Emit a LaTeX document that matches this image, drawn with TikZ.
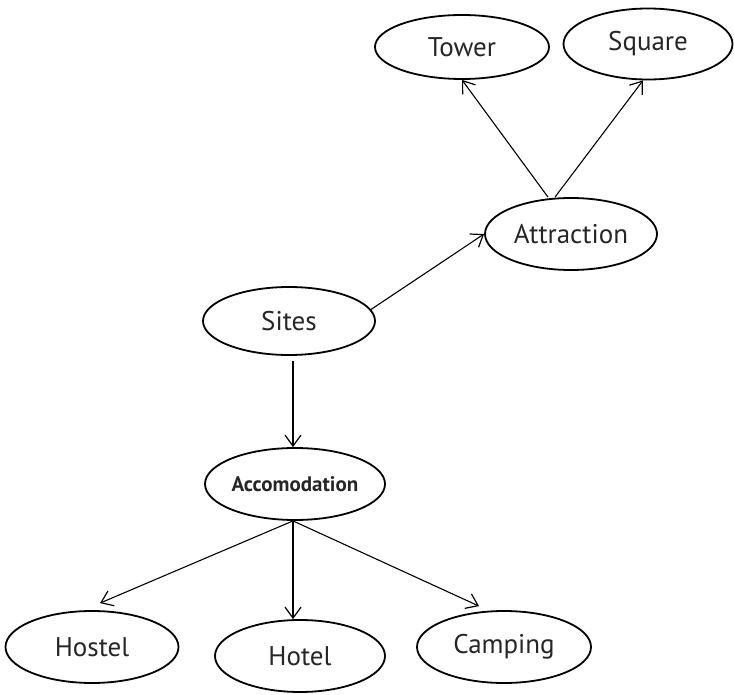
\documentclass[tikz,border=0pt]{standalone}
\usepackage{fontspec}
\setmainfont{PT Sans}
\usetikzlibrary{arrows.meta,shapes.geometric}
\begin{document}
\begin{tikzpicture}[x=1pt,y=-1pt,
  ell/.style={draw, line width=1.8pt, ellipse, inner sep=0pt, text=black!85,
    font=\fontsize{27}{30}\selectfont},
  arr/.style={line width=1.1pt, -{Straight Barb[length=11pt,width=16pt,line width=1.2pt]}}]
\useasboundingbox (0,0) rectangle (734,695);
\node[ell, minimum width=174pt, minimum height=64pt] (tower) at (462,47) {Tower};
\node[ell, minimum width=169pt, minimum height=71pt] (square) at (648,44) {Square};
\node[ell, minimum width=172pt, minimum height=72pt] (attr) at (571,234) {Attraction};
\node[ell, minimum width=172pt, minimum height=68pt] (sites) at (289,321) {Sites};
\node[ell, minimum width=180pt, minimum height=72pt, font=\bfseries\fontsize{21}{23}\selectfont] (acc) at (295,484) {Accomodation};
\node[ell, minimum width=173pt, minimum height=72pt] (hostel) at (92,647) {Hostel};
\node[ell, minimum width=170pt, minimum height=72pt] (hotel) at (300,656) {Hotel};
\node[ell, minimum width=174pt, minimum height=72pt] (camping) at (504,647) {Camping};
\draw[arr] ([xshift=-23pt]attr.north) -- (tower.south);
\draw[arr] ([xshift=-16pt]attr.north) -- ([xshift=-5pt]square.south);
\draw[arr] (sites.8) -- (attr.west);
\draw[arr, shorten <=5pt] ([xshift=-2pt]acc.north |- sites.south) -- ([xshift=-2pt]acc.north);
\draw[arr] ([xshift=-2pt]acc.south) -- ([xshift=-2pt]acc.south |- hotel.north);
\draw[arr] ([xshift=-2pt]acc.south) -- ([shift={(8,-7)}]hostel.north);
\draw[arr] ([xshift=-2pt]acc.south) -- ([shift={(-25,-4)}]camping.north);
\end{tikzpicture}
\end{document}
